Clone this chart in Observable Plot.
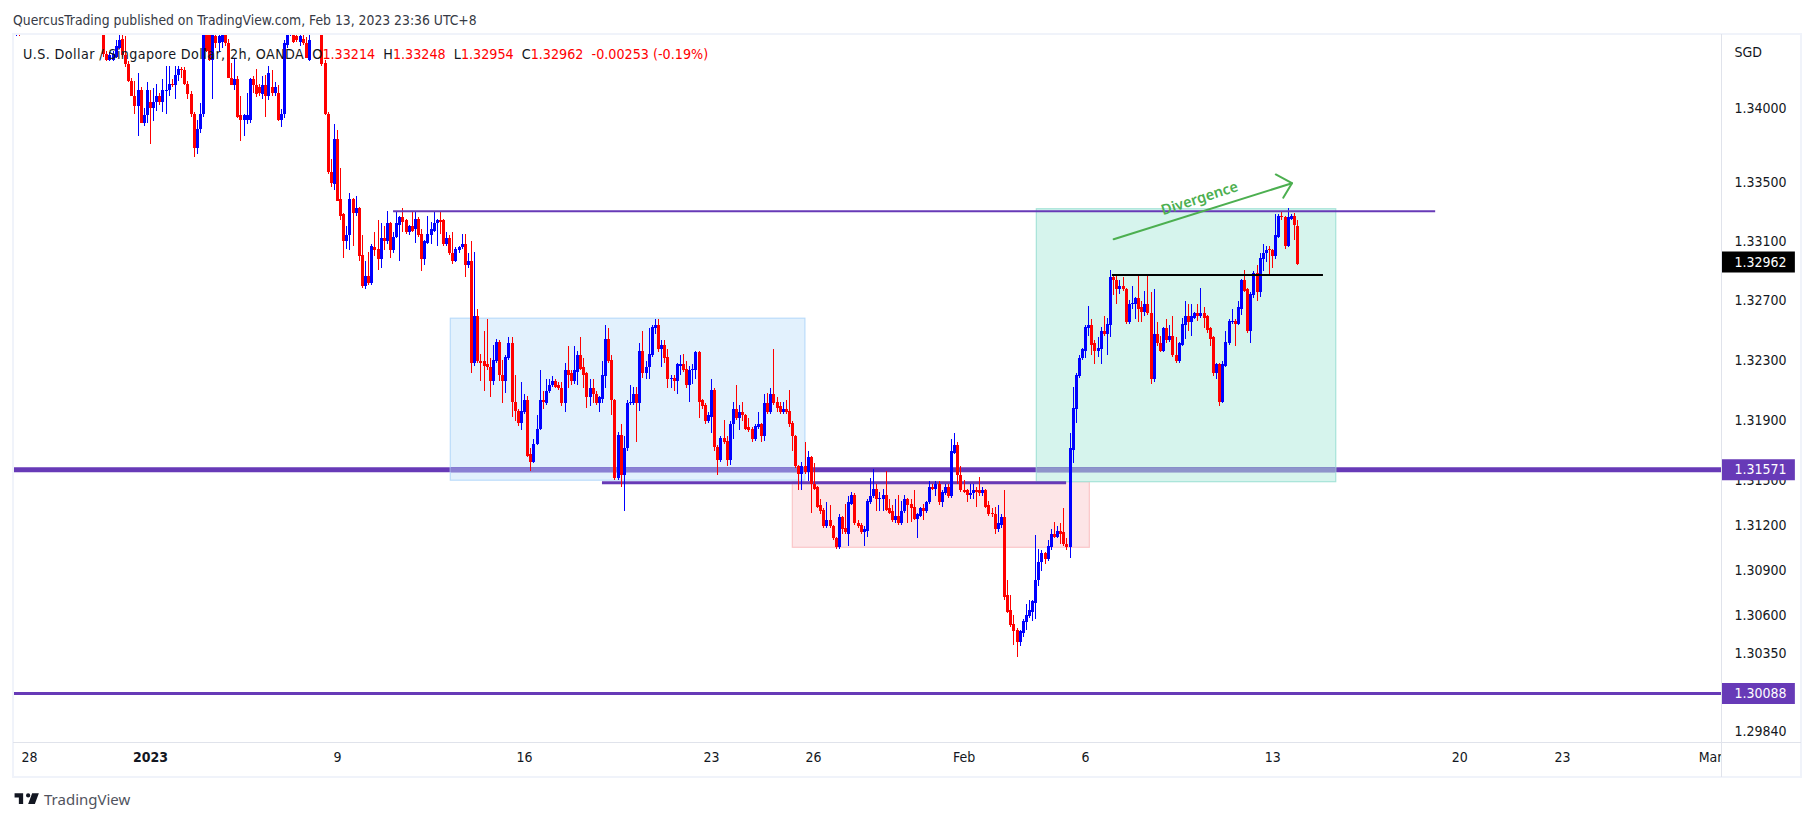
<!DOCTYPE html>
<html>
<head>
<meta charset="utf-8">
<script src="https://cdn.jsdelivr.net/npm/d3@7"></script>
<script src="https://cdn.jsdelivr.net/npm/@observablehq/plot@0.6"></script>
<style>
html,body{margin:0;padding:0;background:#fff;overflow:hidden}
#page{position:relative;width:1814px;height:821px;font-family:"DejaVu Sans Condensed","DejaVu Sans",sans-serif;color:#131722}
#head{height:34px;box-sizing:border-box;padding:12px 0 0 13px;font-size:13.8px;line-height:16px;color:#363a45;white-space:nowrap}
#foot{position:absolute;left:13px;top:788px;display:flex;align-items:center;height:22px;font-family:"Noto Sans",sans-serif;font-size:15px;color:#50535e}
#foot svg{margin-right:5px}
#legend{position:absolute;left:23px;top:46px;font-size:14.2px;line-height:16px;white-space:nowrap;color:#131722}
#legend i{font-style:normal;letter-spacing:.4px}
#legend b{font-weight:normal;color:#ff0000}
.chrome{position:absolute}
svg{display:block}
</style>
</head>
<body>
<div id="page">
<div id="head">QuercusTrading published on TradingView.com, Feb 13, 2023 23:36 UTC+8</div>
<div id="plot"></div>
<div class="chrome" style="left:1722px;top:743px;width:79px;height:33px;background:#fff"></div>
<div class="chrome" style="left:12px;top:33px;width:1790px;height:745px;box-sizing:border-box;border:2px solid #f0f3fa"></div>
<div class="chrome" style="left:1721px;top:34px;width:1px;height:743px;background:#e0e3eb"></div>
<div class="chrome" style="left:13px;top:742px;width:1788px;height:1px;background:#e0e3eb"></div>
<div id="legend"><i>U.S. Dollar / Singapore Dollar, 2h, OANDA</i>&nbsp;&nbsp;O<b>1.33214</b>&nbsp;&nbsp;H<b>1.33248</b>&nbsp;&nbsp;L<b>1.32954</b>&nbsp;&nbsp;C<b>1.32962</b>&nbsp;&nbsp;<b>-0.00253 (-0.19%)</b></div>
<div id="foot"><svg width="26" height="20" viewBox="0 0 36 28"><path fill="#131722" d="M14 6H2v6h6v9h6V6zm14 15h-7l5.6-15H36l-5.6 15zm-7-9a3 3 0 1 0 0-6 3 3 0 0 0 0 6z"/></svg>TradingView</div>
</div>
<script>
// Candles: open, high, low, close per bar, in pips on the chart's price reading.
const leadInStart = 16;
const leadIn = [13455,13470,13441,13460, 13455,13465,13448,13460, 13455,13465,13448,13452];
const firstBar = 45;
const barsToJan9 = [
13450,13460,13434,13436, 13436,13438,13431,13432, 13432,13437,13431,13435, 13432,13438,13431,13436, 13434,13445,13433,13441,
13440,13450,13439,13445, 13446,13452,13434,13435, 13435,13448,13427,13429, 13429,13431,13417,13418, 13418,13420,13408,13408,
13408,13418,13396,13401, 13401,13423,13381,13412, 13412,13414,13390,13390, 13390,13400,13388,13395, 13395,13417,13390,13412,
13404,13412,13376,13400, 13400,13413,13391,13404, 13404,13416,13398,13408, 13408,13410,13402,13404, 13404,13419,13397,13412,
13411,13428,13396,13412, 13412,13428,13408,13416, 13416,13419,13414,13415, 13415,13428,13406,13422, 13422,13428,13418,13426,
13426,13427,13420,13425, 13425,13427,13415,13416, 13416,13418,13406,13409, 13409,13411,13394,13396, 13396,13397,13367,13373,
13373,13392,13369,13386, 13386,13403,13383,13396, 13396,13460,13394,13450, 13450,13456,13437,13438, 13449,13452,13431,13432,
13432,13460,13406,13449, 13448,13452,13440,13443, 13443,13450,13438,13448, 13444,13455,13440,13449, 13449,13455,13441,13443,
13443,13446,13420,13420, 13420,13430,13415,13415, 13415,13433,13412,13419, 13419,13421,13393,13394, 13395,13408,13378,13392,
13392,13396,13381,13395, 13392,13410,13389,13395, 13392,13420,13390,13419, 13419,13421,13410,13415, 13415,13426,13407,13409,
13414,13416,13408,13410, 13409,13421,13406,13415, 13415,13422,13394,13408, 13408,13428,13405,13423, 13414,13425,13408,13410,
13410,13417,13408,13414, 13410,13415,13391,13392, 13392,13399,13387,13396, 13396,13445,13393,13443, 13442,13460,13440,13450,
13450,13470,13448,13455, 13449,13460,13443,13444, 13448,13455,13444,13445, 13444,13455,13441,13448, 13446,13452,13442,13443,
13443,13447,13433,13433, 13432,13460,13431,13445, 13455,13470,13452,13465, 13465,13475,13460,13462, 13462,13470,13455,13458,
13458,13462,13428,13429, 13430,13432,13395,13396, 13396,13397,13356,13357, 13357,13366,13347,13350, 13349,13389,13345,13379
];
const barsJan9to16 = [
13379,13385,13338,13338, 13339,13360,13325,13328, 13329,13330,13300,13311, 13311,13321,13306,13315, 13315,13343,13305,13339,
13339,13340,13308,13330, 13330,13341,13328,13333, 13333,13334,13298,13301, 13302,13315,13280,13281, 13281,13298,13279,13288,
13288,13304,13282,13283, 13283,13309,13282,13308, 13307,13317,13301,13305, 13306,13325,13292,13299, 13299,13323,13293,13313,
13313,13321,13305,13311, 13311,13331,13309,13323, 13323,13324,13300,13305, 13305,13317,13303,13314, 13314,13331,13313,13323,
13322,13328,13298,13327, 13327,13333,13317,13324, 13325,13326,13316,13317, 13317,13322,13315,13321, 13321,13331,13317,13318,
13319,13331,13310,13326, 13326,13327,13314,13315, 13316,13319,13291,13299, 13299,13312,13295,13311, 13310,13328,13309,13316,
13315,13324,13309,13319, 13318,13331,13317,13323, 13323,13326,13308,13325, 13325,13331,13316,13324, 13325,13326,13308,13309,
13309,13317,13308,13313, 13313,13315,13302,13303, 13303,13317,13296,13298, 13298,13307,13297,13306, 13305,13308,13303,13307,
13307,13316,13306,13309, 13309,13316,13287,13295, 13295,13303,13293,13298, 13298,13311,13223,13230, 13230,13304,13228,13261,
13261,13266,13230,13231, 13231,13236,13218,13230, 13231,13251,13211,13228, 13229,13259,13225,13227, 13227,13233,13207,13218,
13218,13242,13215,13232, 13231,13246,13230,13244, 13244,13245,13218,13222, 13222,13232,13203,13218, 13218,13235,13210,13234,
13233,13247,13232,13243, 13243,13247,13194,13204, 13204,13222,13191,13198, 13198,13199,13188,13190, 13190,13217,13185,13198
];
const barsJan16to23 = [
13197,13209,13196,13205, 13205,13208,13167,13168, 13169,13173,13158,13164, 13164,13179,13163,13176, 13176,13195,13175,13186,
13186,13225,13185,13205, 13205,13211,13199,13204, 13203,13219,13202,13211, 13211,13219,13210,13215, 13215,13221,13214,13218,
13218,13219,13213,13214, 13215,13217,13212,13213, 13213,13217,13201,13203, 13203,13230,13197,13225, 13225,13241,13213,13222,
13223,13225,13215,13218, 13218,13241,13216,13225, 13224,13238,13215,13235, 13235,13247,13225,13226, 13227,13233,13213,13222,
13223,13224,13200,13207, 13207,13219,13201,13213, 13213,13219,13203,13209, 13209,13211,13202,13203, 13203,13208,13197,13207,
13206,13231,13203,13222, 13221,13255,13213,13246, 13246,13253,13230,13231, 13232,13235,13195,13205, 13205,13206,13152,13153,
13153,13184,13152,13182, 13182,13189,13147,13155, 13155,13181,13131,13173, 13173,13205,13171,13203, 13203,13215,13202,13204,
13203,13214,13202,13209, 13209,13214,13177,13203, 13203,13243,13198,13238, 13238,13251,13220,13223, 13223,13231,13219,13227,
13227,13253,13219,13236, 13235,13255,13234,13254, 13253,13259,13249,13255, 13255,13259,13237,13239, 13239,13245,13227,13242,
13242,13245,13230,13233, 13234,13239,13213,13219, 13219,13222,13213,13220, 13220,13222,13211,13218, 13218,13230,13209,13229,
13228,13235,13222,13229, 13229,13236,13224,13225, 13226,13231,13213,13215, 13215,13228,13204,13225, 13225,13229,13216,13226,
13225,13238,13219,13237, 13237,13238,13193,13204, 13205,13206,13199,13201, 13202,13203,13189,13191, 13191,13197,13190,13195
];
const barsJan23to30 = [
13194,13219,13183,13212, 13212,13213,13171,13174, 13174,13175,13155,13165, 13165,13181,13164,13180, 13180,13192,13176,13177,
13178,13181,13161,13165, 13165,13191,13162,13189, 13189,13204,13179,13199, 13199,13215,13192,13193, 13193,13202,13185,13197,
13197,13204,13191,13195, 13195,13196,13185,13186, 13187,13193,13184,13185, 13186,13187,13177,13179, 13179,13189,13178,13188,
13187,13197,13186,13189, 13189,13190,13177,13181, 13181,13209,13178,13203, 13203,13210,13196,13197, 13197,13213,13196,13209,
13209,13239,13202,13203, 13204,13207,13197,13200, 13201,13204,13196,13197, 13197,13204,13196,13199, 13199,13205,13196,13197,
13198,13212,13187,13189, 13190,13191,13171,13181, 13181,13182,13160,13161, 13161,13162,13145,13156, 13156,13164,13145,13161,
13161,13177,13156,13157, 13157,13171,13151,13167, 13167,13168,13130,13149, 13149,13163,13145,13146, 13147,13148,13133,13134,
13135,13139,13129,13131, 13132,13133,13120,13121, 13121,13137,13120,13125, 13125,13135,13120,13121, 13121,13122,13112,13113,
13113,13114,13106,13107, 13107,13129,13106,13127, 13127,13128,13116,13119, 13120,13136,13116,13117, 13116,13141,13108,13137,
13136,13144,13135,13142, 13142,13143,13122,13123, 13123,13125,13120,13121, 13122,13123,13116,13117, 13117,13121,13108,13119,
13118,13139,13114,13138, 13137,13153,13136,13141, 13141,13159,13140,13146, 13146,13149,13131,13139, 13139,13144,13131,13140,
13139,13146,13131,13142, 13142,13158,13131,13132, 13133,13139,13129,13130, 13131,13135,13124,13125, 13125,13139,13123,13128
];
const barsJan30toFeb6 = [
13128,13142,13122,13123, 13123,13138,13122,13131, 13131,13142,13130,13139, 13139,13140,13123,13135, 13136,13139,13124,13133,
13134,13145,13125,13126, 13126,13130,13113,13129, 13128,13134,13127,13133, 13133,13136,13125,13131, 13131,13138,13130,13137,
13137,13151,13136,13147, 13147,13149,13145,13146, 13146,13151,13141,13149, 13149,13151,13135,13137, 13137,13145,13134,13144,
13143,13149,13142,13147, 13147,13149,13140,13141, 13141,13179,13140,13171, 13170,13183,13169,13175, 13175,13177,13149,13155,
13155,13161,13144,13145, 13145,13152,13143,13144, 13145,13146,13137,13142, 13142,13149,13139,13143, 13143,13149,13139,13145,
13145,13147,13134,13144, 13145,13154,13141,13143, 13143,13147,13141,13145, 13145,13146,13133,13134, 13135,13138,13128,13129,
13130,13133,13127,13129, 13129,13134,13116,13119, 13119,13135,13117,13123, 13122,13129,13120,13127, 13127,13145,13072,13074,
13075,13085,13063,13064, 13065,13075,13054,13055, 13056,13062,13042,13051, 13052,13053,13034,13044, 13044,13052,13041,13051,
13050,13059,13047,13058, 13057,13069,13052,13062, 13061,13072,13060,13065, 13064,13072,13058,13071, 13070,13115,13059,13085,
13085,13106,13081,13097, 13097,13105,13091,13103, 13103,13104,13096,13099, 13099,13112,13098,13108, 13107,13119,13105,13116,
13116,13124,13113,13114, 13114,13121,13113,13118, 13118,13123,13109,13116, 13117,13133,13108,13109, 13109,13113,13105,13107,
13107,13183,13100,13173, 13172,13214,13163,13200, 13199,13223,13190,13222, 13221,13235,13220,13233, 13233,13240,13232,13239
];
const barsFeb6to13 = [
13238,13255,13233,13254, 13253,13268,13248,13255, 13255,13259,13235,13242, 13243,13245,13229,13238, 13238,13247,13234,13240,
13239,13254,13229,13251, 13251,13261,13248,13249, 13249,13260,13235,13256, 13255,13292,13247,13287, 13287,13289,13275,13285,
13285,13289,13269,13279, 13279,13285,13276,13281, 13281,13287,13278,13279, 13279,13280,13256,13257, 13257,13272,13256,13269,
13269,13281,13266,13270, 13269,13274,13259,13273, 13273,13289,13257,13266, 13267,13271,13257,13264, 13264,13278,13261,13269,
13269,13289,13262,13263, 13263,13277,13216,13219, 13219,13279,13217,13249, 13249,13257,13241,13243, 13243,13248,13237,13238,
13238,13254,13237,13253, 13253,13259,13243,13245, 13245,13255,13244,13248, 13248,13261,13234,13235, 13235,13247,13230,13231,
13231,13244,13230,13243, 13242,13260,13241,13256, 13255,13271,13246,13261, 13261,13269,13251,13257, 13257,13269,13248,13261,
13260,13264,13259,13263, 13263,13269,13258,13261, 13261,13280,13260,13263, 13263,13267,13253,13260, 13261,13262,13250,13252,
13253,13254,13241,13246, 13247,13248,13221,13223, 13223,13230,13219,13229, 13229,13230,13201,13204, 13204,13231,13203,13229,
13228,13251,13227,13244, 13243,13259,13242,13258, 13257,13266,13256,13258, 13258,13259,13241,13256, 13256,13271,13255,13267,
13266,13286,13262,13285, 13285,13292,13277,13278, 13279,13280,13250,13251, 13251,13277,13243,13276, 13275,13291,13273,13290,
13290,13295,13271,13277, 13277,13303,13274,13300, 13299,13309,13291,13303, 13303,13308,13297,13305, 13306,13308,13289,13305
];
const barsFeb13 = [
13305,13306,13293,13301, 13301,13329,13299,13315, 13314,13329,13313,13328, 13328,13331,13325,13327, 13327,13328,13306,13308,
13308,13333,13307,13327, 13326,13329,13325,13328, 13328,13330,13312,13322, 13321,13325,13295,13296
];
// The price axis is logarithmic; pips above are read linearly between its 1.34000 and 1.29840 ticks.
const fromReading = p => 1.34 * Math.exp(-(13400 - p) * 7.5957e-5);
const toRows = (flat, start) => d3.range(flat.length / 4).map(k => ({
  i: start + k,
  open: fromReading(flat[4 * k]), high: fromReading(flat[4 * k + 1]),
  low: fromReading(flat[4 * k + 2]), close: fromReading(flat[4 * k + 3])
}));
const candles = toRows(leadIn, leadInStart).concat(toRows(
  [...barsToJan9, ...barsJan9to16, ...barsJan16to23, ...barsJan23to30, ...barsJan30toFeb6, ...barsFeb6to13, ...barsFeb13], firstBar));

// Axis
const priceTicks = [1.34, 1.335, 1.331, 1.327, 1.323, 1.319, 1.315, 1.312, 1.309, 1.306, 1.3035, 1.2984];
const dayTicks = [21.2, 120, 180, 240, 272.7, 321, 360, 420, 480, 513, 560.5];
const dayLabels = ["28", "9", "16", "23", "26", "Feb", "6", "13", "20", "23", "Mar"];
const yearTick = [60];

// Drawings
const zones = [
  {x1: 156.35, x2: 270.1, top: 1.32581, bottom: 1.31498, fill: "#2196f3", fo: 0.13, stroke: "#bbdcfa"},
  {x1: 266.07, x2: 361.35, top: 1.31488, bottom: 1.31052, fill: "#f23645", fo: 0.13, stroke: "#fbc6c8"},
  {x1: 344.35, x2: 440.4, top: 1.33318, bottom: 1.31488, fill: "#26c6a0", fo: 0.19, stroke: "#a6e3d8"}
];
const levelThick = 1.31571, levelBottom = 1.30088, lastClose = 1.32962;
const thickOverZones = [
  {x1: 156.35, x2: 270.1, stroke: "#8a80d3"},
  {x1: 344.35, x2: 440.4, stroke: "#8e94cb"}
];
const segments = [
  {x1: 137.97, x2: 472.3, y: 1.33305, stroke: "#673ab7", w: 2},
  {x1: 368.6, x2: 436.3, y: 1.32874, stroke: "#000000", w: 2}
];
const midLine = {x1: 205, x2: 353.9, y: 1.31484};
const arrowShaft = [{i: 369, p: 1.33116}, {i: 426.2, p: 1.33494}];
const arrowHead = [{i: 421, p: 1.33553}, {i: 426.2, p: 1.33494}, {i: 423.4, p: 1.33396}];
const note = {i: 396.9, p: 1.33397, text: "Divergence"};
const tags = [
  {p: lastClose, fill: "#000000"},
  {p: levelThick, fill: "#673ab7"},
  {p: levelBottom, fill: "#673ab7"}
];
const axisEnd = 564, tagEnd = 587.7;

const chart = Plot.plot({
  width: 1814, height: 743,
  marginTop: 0, marginBottom: 35, marginLeft: 13, marginRight: 93,
  style: {fontFamily: '"DejaVu Sans Condensed","DejaVu Sans",sans-serif', fontSize: "14px", background: "transparent", overflow: "visible"},
  x: {type: "linear", domain: [16.05, axisEnd], axis: null},
  y: {type: "log", domain: [1.29766, 1.34503], axis: null},
  marks: [
    Plot.ruleY([levelThick, levelBottom], {stroke: "#673ab7", strokeWidth: d => d === levelThick ? 5 : 3}),
    Plot.rect(zones, {x1: "x1", x2: "x2", y1: "bottom", y2: "top", fill: "fill", fillOpacity: "fo", stroke: "stroke", strokeWidth: 1.2}),
    Plot.ruleY(thickOverZones, {y: () => levelThick, x1: "x1", x2: "x2", stroke: "stroke", strokeWidth: 5}),
    Plot.ruleY([midLine], {y: "y", x1: "x1", x2: "x2", stroke: "#673ab7", strokeWidth: 3}),
    Plot.ruleX(candles, {x: "i", y1: "low", y2: "high", stroke: d => d.close >= d.open ? "#0000ff" : "#ff0000", strokeWidth: 1, clip: true, shapeRendering: "crispEdges"}),
    Plot.ruleX(candles, {x: "i", y1: "open", y2: "close", stroke: d => d.close >= d.open ? "#0000ff" : "#ff0000", strokeWidth: 3, clip: true, shapeRendering: "crispEdges"}),
    Plot.ruleY(segments, {y: "y", x1: "x1", x2: "x2", stroke: "stroke", strokeWidth: "w"}),
    Plot.line(arrowShaft, {x: "i", y: "p", stroke: "#4caf50", strokeWidth: 2}),
    Plot.line(arrowHead, {x: "i", y: "p", stroke: "#4caf50", strokeWidth: 2}),
    Plot.text([note], {x: "i", y: "p", text: "text", rotate: -18, dx: -1, dy: 1, fill: "#4caf50", fontSize: 14.5, fontWeight: 600, fontFamily: '"Noto Sans",sans-serif'}),
    Plot.axisX({ticks: dayTicks, tickFormat: d => dayLabels[dayTicks.indexOf(d)], tickSize: 0, tickPadding: 10, label: null, color: "#131722"}),
    Plot.axisX({ticks: yearTick, tickFormat: () => "2023", tickSize: 0, tickPadding: 10, label: null, color: "#131722", fontWeight: "bold"}),
    Plot.axisY({anchor: "right", ticks: priceTicks, tickFormat: d3.format(".5f"), tickSize: 0, tickPadding: 13, label: null, color: "#131722"}),
    Plot.text(["SGD"], {frameAnchor: "top-right", dx: 13, dy: 13, textAnchor: "start", fill: "#131722"}),
    Plot.ruleY(tags, {y: "p", x1: axisEnd, x2: tagEnd, stroke: "fill", strokeWidth: 21}),
    Plot.text(tags, {y: "p", x: axisEnd, dx: 13, text: d => d.p.toFixed(5), textAnchor: "start", fill: "#ffffff"})
  ]
});
document.getElementById("plot").appendChild(chart);
</script>
</body>
</html>
